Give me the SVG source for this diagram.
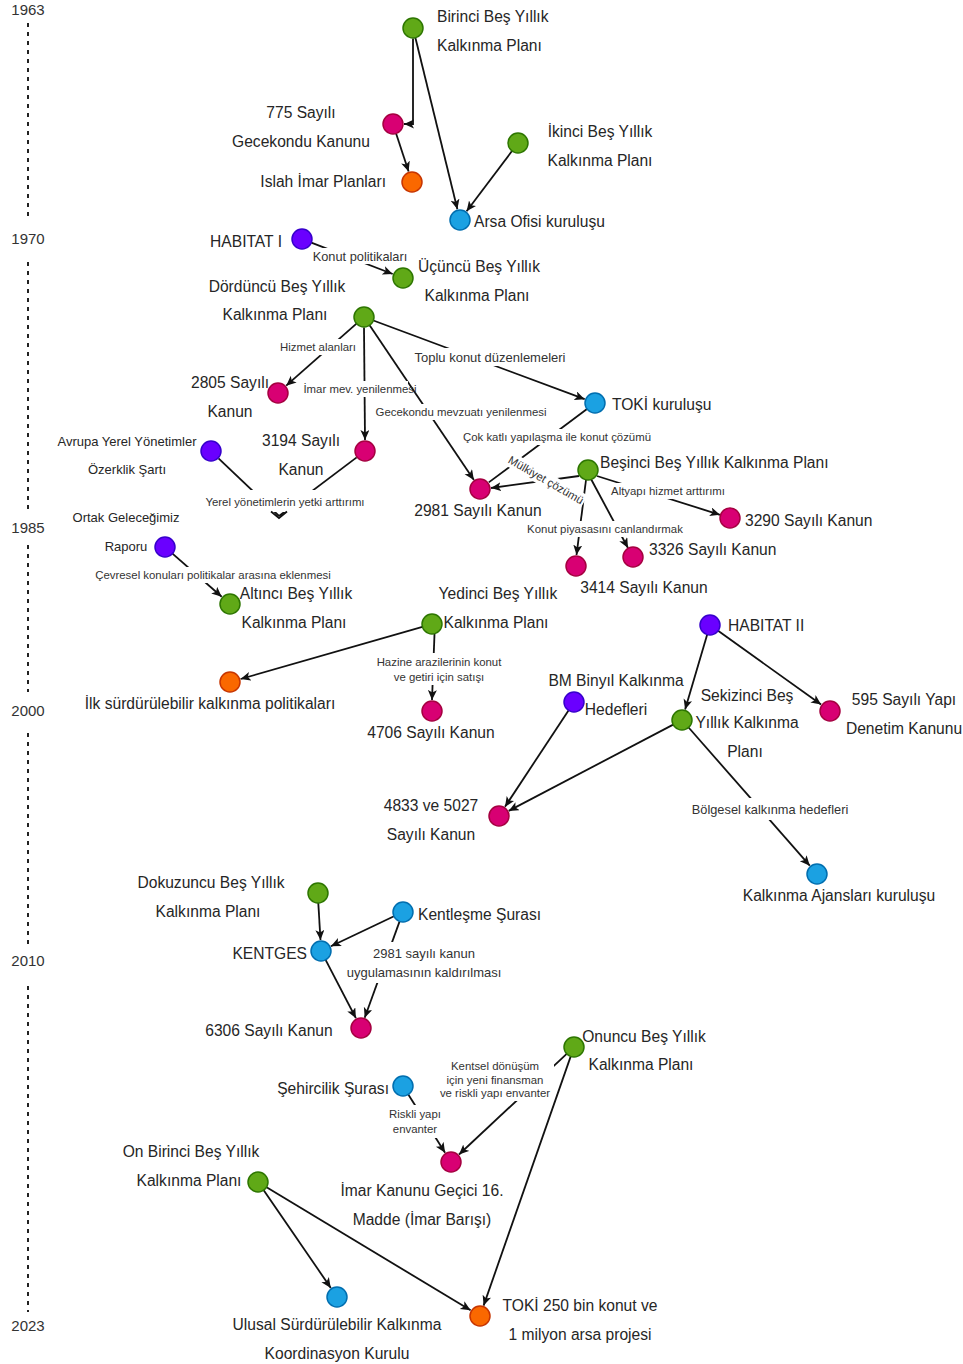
<svg xmlns="http://www.w3.org/2000/svg" width="963" height="1364" viewBox="0 0 963 1364">
<style>
text{font-family:"Liberation Sans",Arial,sans-serif}
.lbl{font-size:15.6px;fill:#262626}
.m{text-anchor:middle}
.s{text-anchor:start}
.en{text-anchor:end}
.sm{font-size:13px}
.el{font-size:11.4px;fill:#333;text-anchor:middle}
.bg{fill:#fff}
.e{stroke:#111;stroke-width:1.8;fill:none}
.a{marker-end:url(#arr)}
.g{fill:#60a917;stroke:#2d7600;stroke-width:1.5}
.p{fill:#d80073;stroke:#a50040;stroke-width:1.5}
.b{fill:#1ba1e2;stroke:#006eaf;stroke-width:1.5}
.o{fill:#fa6800;stroke:#c73500;stroke-width:1.5}
.v{fill:#6a00ff;stroke:#3700cc;stroke-width:1.5}
.tl{stroke:#222;stroke-width:2;stroke-dasharray:4 5;fill:none}
.yr{font-size:15px;fill:#333;text-anchor:middle}
</style>
<defs>
<marker id="arr" markerUnits="userSpaceOnUse" markerWidth="12" markerHeight="10" refX="10" refY="4.5" orient="auto">
<path d="M0,0 L10,4.5 L0,9 L2.5,4.5 Z" fill="#111"/>
</marker>
</defs>
<rect width="963" height="1364" fill="#fff"/>
<g id="timeline">
<text class="yr" x="28" y="15">1963</text>
<line class="tl" x1="28" y1="23" x2="28" y2="220"/>
<text class="yr" x="28" y="244">1970</text>
<line class="tl" x1="28" y1="262" x2="28" y2="514"/>
<text class="yr" x="28" y="533">1985</text>
<line class="tl" x1="28" y1="545" x2="28" y2="692"/>
<text class="yr" x="28" y="716">2000</text>
<line class="tl" x1="28" y1="733" x2="28" y2="944"/>
<text class="yr" x="28" y="966">2010</text>
<line class="tl" x1="28" y1="986" x2="28" y2="1312"/>
<text class="yr" x="28" y="1331">2023</text>
</g>
<g id="connectors">
<path class="e a" d="M413,38.5 L413,124 L404,124"/>
<line class="e a" x1="415.4" y1="37.7" x2="457.4" y2="209.3"/>
<line class="e a" x1="396.1" y1="133.5" x2="408.6" y2="171.5"/>
<line class="e a" x1="512" y1="151" x2="466.6" y2="211.2"/>
<line class="e a" x1="311.3" y1="242.6" x2="392.7" y2="274"/>
<line class="e a" x1="356.5" y1="323.6" x2="286.2" y2="385.7"/>
<line class="e a" x1="364" y1="327.5" x2="365" y2="440"/>
<line class="e a" x1="369.6" y1="325.3" x2="473.9" y2="479.9"/>
<line class="e a" x1="373.4" y1="320.5" x2="584.7" y2="399.2"/>
<line class="e" x1="587" y1="409" x2="488.8" y2="482.4"/>
<line class="e a" x1="579" y1="476" x2="491" y2="488"/>
<line class="e a" x1="597" y1="476" x2="720" y2="514.8"/>
<line class="e a" x1="586" y1="480" x2="576.5" y2="555"/>
<line class="e a" x1="591" y1="479" x2="628" y2="548"/>
<line class="e" x1="218.5" y1="458.3" x2="279" y2="516"/>
<line class="e" x1="356.7" y1="457.4" x2="279" y2="516"/>
<line class="e a" x1="172.5" y1="553.6" x2="221.7" y2="596.8"/>
<line class="e a" x1="422.4" y1="626.8" x2="240.6" y2="679"/>
<line class="e a" x1="434.5" y1="634" x2="432" y2="700"/>
<line class="e a" x1="707.2" y1="634.6" x2="685.1" y2="709.4"/>
<line class="e a" x1="718.1" y1="630.8" x2="821.1" y2="704.6"/>
<line class="e a" x1="568.5" y1="710.4" x2="505" y2="806.8"/>
<line class="e a" x1="673.2" y1="724.6" x2="508.7" y2="810.9"/>
<line class="e a" x1="688.6" y1="727.5" x2="809.8" y2="865.7"/>
<line class="e a" x1="318.3" y1="903" x2="320.5" y2="940"/>
<line class="e a" x1="394" y1="916.3" x2="330.9" y2="946.3"/>
<line class="e a" x1="325.6" y1="959.9" x2="355.9" y2="1018.2"/>
<line class="e a" x1="399.6" y1="921.4" x2="364.7" y2="1017.7"/>
<line class="e a" x1="566.7" y1="1053.8" x2="459" y2="1154.5"/>
<line class="e a" x1="408.3" y1="1094.5" x2="445.1" y2="1152.7"/>
<line class="e a" x1="570.7" y1="1056.4" x2="483.6" y2="1305.6"/>
<line class="e a" x1="263.7" y1="1190.2" x2="330.8" y2="1287.9"/>
<line class="e a" x1="266.6" y1="1187.2" x2="470.6" y2="1310.3"/>
</g>
<g id="edge-labels">
<rect class="bg" x="311" y="248" width="99" height="16"/>
<text class="el" x="360" y="260.5" style="font-size:12.8px">Konut politikaları</text>
<rect class="bg" x="279" y="339" width="80" height="16"/>
<text class="el" x="318" y="351">Hizmet alanları</text>
<rect class="bg" x="303" y="381" width="105" height="16"/>
<text class="el" x="360" y="393">İmar mev. yenilenmesi</text>
<rect class="bg" x="374" y="404" width="176" height="16"/>
<text class="el" x="461" y="416">Gecekondu mevzuatı yenilenmesi</text>
<rect class="bg" x="410" y="348" width="161" height="18"/>
<text class="el" x="490" y="361.5" style="font-size:13px">Toplu konut düzenlemeleri</text>
<rect class="bg" x="460" y="429" width="194" height="16"/>
<text class="el" x="557" y="441">Çok katlı yapılaşma ile konut çözümü</text>
<g transform="translate(546,480) rotate(30)">
<rect class="bg" x="-44" y="-7.5" width="88" height="15"/>
<text class="el" x="0" y="4">Mülkiyet çözümü</text>
</g>
<rect class="bg" x="609" y="483" width="120" height="16"/>
<text class="el" x="668" y="495">Altyapı hizmet arttırımı</text>
<rect class="bg" x="525" y="521" width="161" height="16"/>
<text class="el" x="605" y="533">Konut piyasasını canlandırmak</text>
<rect class="bg" x="200" y="490" width="166" height="22"/>
<text class="el" x="285" y="506">Yerel yönetimlerin yetki arttırımı</text>
<path class="e" d="M271,511.5 L279,518 L287,511.5"/>
<rect class="bg" x="91" y="567" width="244" height="16"/>
<text class="el" x="213" y="579">Çevresel konuları politikalar arasına eklenmesi</text>
<rect class="bg" x="374" y="653" width="131" height="32"/>
<text class="el" x="439" y="666">Hazine arazilerinin konut</text>
<text class="el" x="439" y="681">ve getiri için satışı</text>
<rect class="bg" x="684" y="798" width="172" height="22"/>
<text class="el" x="770" y="813.5" style="font-size:12.8px">Bölgesel kalkınma hedefleri</text>
<rect class="bg" x="344" y="942" width="161" height="41"/>
<text class="el" x="424" y="957.5" style="font-size:13px">2981 sayılı kanun</text>
<text class="el" x="424" y="976.5" style="font-size:13px">uygulamasının kaldırılması</text>
<rect class="bg" x="437" y="1058" width="117" height="43"/>
<text class="el" x="495" y="1070">Kentsel dönüşüm</text>
<text class="el" x="495" y="1084">için yeni finansman</text>
<text class="el" x="495" y="1097">ve riskli yapı envanter</text>
<rect class="bg" x="386" y="1105" width="58" height="33"/>
<text class="el" x="415" y="1118">Riskli yapı</text>
<text class="el" x="415" y="1133">envanter</text>
</g>
<g id="n-birinci"><circle class="g" cx="413" cy="28" r="10"/><text class="lbl s" x="437" y="22">Birinci Beş Yıllık</text><text class="lbl s" x="437" y="51">Kalkınma Planı</text></g>
<g id="n-775"><circle class="p" cx="393" cy="124" r="10"/><text class="lbl m" x="301" y="118">775 Sayılı</text><text class="lbl m" x="301" y="147">Gecekondu Kanunu</text></g>
<g id="n-islah"><circle class="o" cx="412" cy="182" r="10"/><text class="lbl en" x="386" y="187">Islah İmar Planları</text></g>
<g id="n-ikinci"><circle class="g" cx="518" cy="143" r="10"/><text class="lbl m" x="600" y="137">İkinci Beş Yıllık</text><text class="lbl m" x="600" y="166">Kalkınma Planı</text></g>
<g id="n-arsa"><circle class="b" cx="460" cy="220" r="10"/><text class="lbl s" x="474" y="227">Arsa Ofisi kuruluşu</text></g>
<g id="n-habitat1"><circle class="v" cx="302" cy="239" r="10"/><text class="lbl en" x="282" y="247">HABITAT I</text></g>
<g id="n-ucuncu"><circle class="g" cx="403" cy="278" r="10"/><text class="lbl m" x="479" y="272">Üçüncü Beş Yıllık</text><text class="lbl m" x="477" y="301">Kalkınma Planı</text></g>
<g id="n-dorduncu"><circle class="g" cx="364" cy="317" r="10"/><text class="lbl m" x="277" y="292">Dördüncü Beş Yıllık</text><text class="lbl m" x="275" y="320">Kalkınma Planı</text></g>
<g id="n-2805"><circle class="p" cx="278" cy="393" r="10"/><text class="lbl m" x="230" y="388">2805 Sayılı</text><text class="lbl m" x="230" y="417">Kanun</text></g>
<g id="n-3194"><circle class="p" cx="365" cy="451" r="10"/><text class="lbl m" x="301" y="446">3194 Sayılı</text><text class="lbl m" x="301" y="475">Kanun</text></g>
<g id="n-toki"><circle class="b" cx="595" cy="403" r="10"/><text class="lbl s" x="612" y="410">TOKİ kuruluşu</text></g>
<g id="n-avrupa"><circle class="v" cx="211" cy="451" r="10"/><text class="lbl m sm" x="127" y="445.5">Avrupa Yerel Yönetimler</text><text class="lbl m sm" x="127" y="473.5">Özerklik Şartı</text></g>
<g id="n-2981"><circle class="p" cx="480" cy="489" r="10"/><text class="lbl m" x="478" y="516">2981 Sayılı Kanun</text></g>
<g id="n-besinci"><circle class="g" cx="588" cy="470" r="10"/><text class="lbl s" x="600" y="468">Beşinci Beş Yıllık Kalkınma Planı</text></g>
<g id="n-3290"><circle class="p" cx="730" cy="518" r="10"/><text class="lbl s" x="745" y="526">3290 Sayılı Kanun</text></g>
<g id="n-3326"><circle class="p" cx="633" cy="557" r="10"/><text class="lbl s" x="649" y="555">3326 Sayılı Kanun</text></g>
<g id="n-3414"><circle class="p" cx="576" cy="566" r="10"/><text class="lbl m" x="644" y="593">3414 Sayılı Kanun</text></g>
<g id="n-ortak"><circle class="v" cx="165" cy="547" r="10"/><text class="lbl m sm" x="126" y="521.5">Ortak Geleceğimiz</text><text class="lbl m sm" x="126" y="550.5">Raporu</text></g>
<g id="n-altinci"><circle class="g" cx="230" cy="604" r="10"/><text class="lbl m" x="296" y="599">Altıncı Beş Yıllık</text><text class="lbl m" x="294" y="628">Kalkınma Planı</text></g>
<g id="n-yedinci"><circle class="g" cx="432" cy="624" r="10"/><text class="lbl m" x="498" y="599">Yedinci Beş Yıllık</text><text class="lbl m" x="496" y="628">Kalkınma Planı</text></g>
<g id="n-ilk"><circle class="o" cx="230" cy="682" r="10"/><text class="lbl m" x="210" y="709">İlk sürdürülebilir kalkınma politikaları</text></g>
<g id="n-4706"><circle class="p" cx="432" cy="711" r="10"/><text class="lbl m" x="431" y="738">4706 Sayılı Kanun</text></g>
<g id="n-habitat2"><circle class="v" cx="710" cy="625" r="10"/><text class="lbl s" x="728" y="631">HABITAT II</text></g>
<g id="n-595"><circle class="p" cx="830" cy="711" r="10"/><text class="lbl m" x="904" y="705">595 Sayılı Yapı</text><text class="lbl m" x="904" y="734">Denetim Kanunu</text></g>
<g id="n-bm"><circle class="v" cx="574" cy="702" r="10"/><text class="lbl m" x="616" y="686">BM Binyıl Kalkınma</text><text class="lbl m" x="616" y="715">Hedefleri</text></g>
<g id="n-sekizinci"><circle class="g" cx="682" cy="720" r="10"/><text class="lbl m" x="747" y="701">Sekizinci Beş</text><text class="lbl m" x="747" y="728">Yıllık Kalkınma</text><text class="lbl m" x="745" y="757">Planı</text></g>
<g id="n-4833"><circle class="p" cx="499" cy="816" r="10"/><text class="lbl m" x="431" y="811">4833 ve 5027</text><text class="lbl m" x="431" y="840">Sayılı Kanun</text></g>
<g id="n-ajans"><circle class="b" cx="817" cy="874" r="10"/><text class="lbl m" x="839" y="901">Kalkınma Ajansları kuruluşu</text></g>
<g id="n-dokuzuncu"><circle class="g" cx="318" cy="893" r="10"/><text class="lbl m" x="211" y="888">Dokuzuncu Beş Yıllık</text><text class="lbl m" x="208" y="917">Kalkınma Planı</text></g>
<g id="n-kentlesme"><circle class="b" cx="403" cy="912" r="10"/><text class="lbl s" x="418" y="920">Kentleşme Şurası</text></g>
<g id="n-kentges"><circle class="b" cx="321" cy="951" r="10"/><text class="lbl en" x="307" y="959">KENTGES</text></g>
<g id="n-6306"><circle class="p" cx="361" cy="1028" r="10"/><text class="lbl m" x="269" y="1036">6306 Sayılı Kanun</text></g>
<g id="n-onuncu"><circle class="g" cx="574" cy="1047" r="10"/><text class="lbl m" x="644" y="1042">Onuncu Beş Yıllık</text><text class="lbl m" x="641" y="1070">Kalkınma Planı</text></g>
<g id="n-sehircilik"><circle class="b" cx="403" cy="1086" r="10"/><text class="lbl en" x="389" y="1094">Şehircilik Şurası</text></g>
<g id="n-imar"><circle class="p" cx="451" cy="1162" r="10"/><text class="lbl m" x="422" y="1196">İmar Kanunu Geçici 16.</text><text class="lbl m" x="422" y="1225">Madde (İmar Barışı)</text></g>
<g id="n-onbirinci"><circle class="g" cx="258" cy="1182" r="10"/><text class="lbl m" x="191" y="1157">On Birinci Beş Yıllık</text><text class="lbl m" x="189" y="1186">Kalkınma Planı</text></g>
<g id="n-ulusal"><circle class="b" cx="337" cy="1297" r="10"/><text class="lbl m" x="337" y="1330">Ulusal Sürdürülebilir Kalkınma</text><text class="lbl m" x="337" y="1359">Koordinasyon Kurulu</text></g>
<g id="n-toki250"><circle class="o" cx="480" cy="1316" r="10"/><text class="lbl m" x="580" y="1311">TOKİ 250 bin konut ve</text><text class="lbl m" x="580" y="1340">1 milyon arsa projesi</text></g>
</svg>
